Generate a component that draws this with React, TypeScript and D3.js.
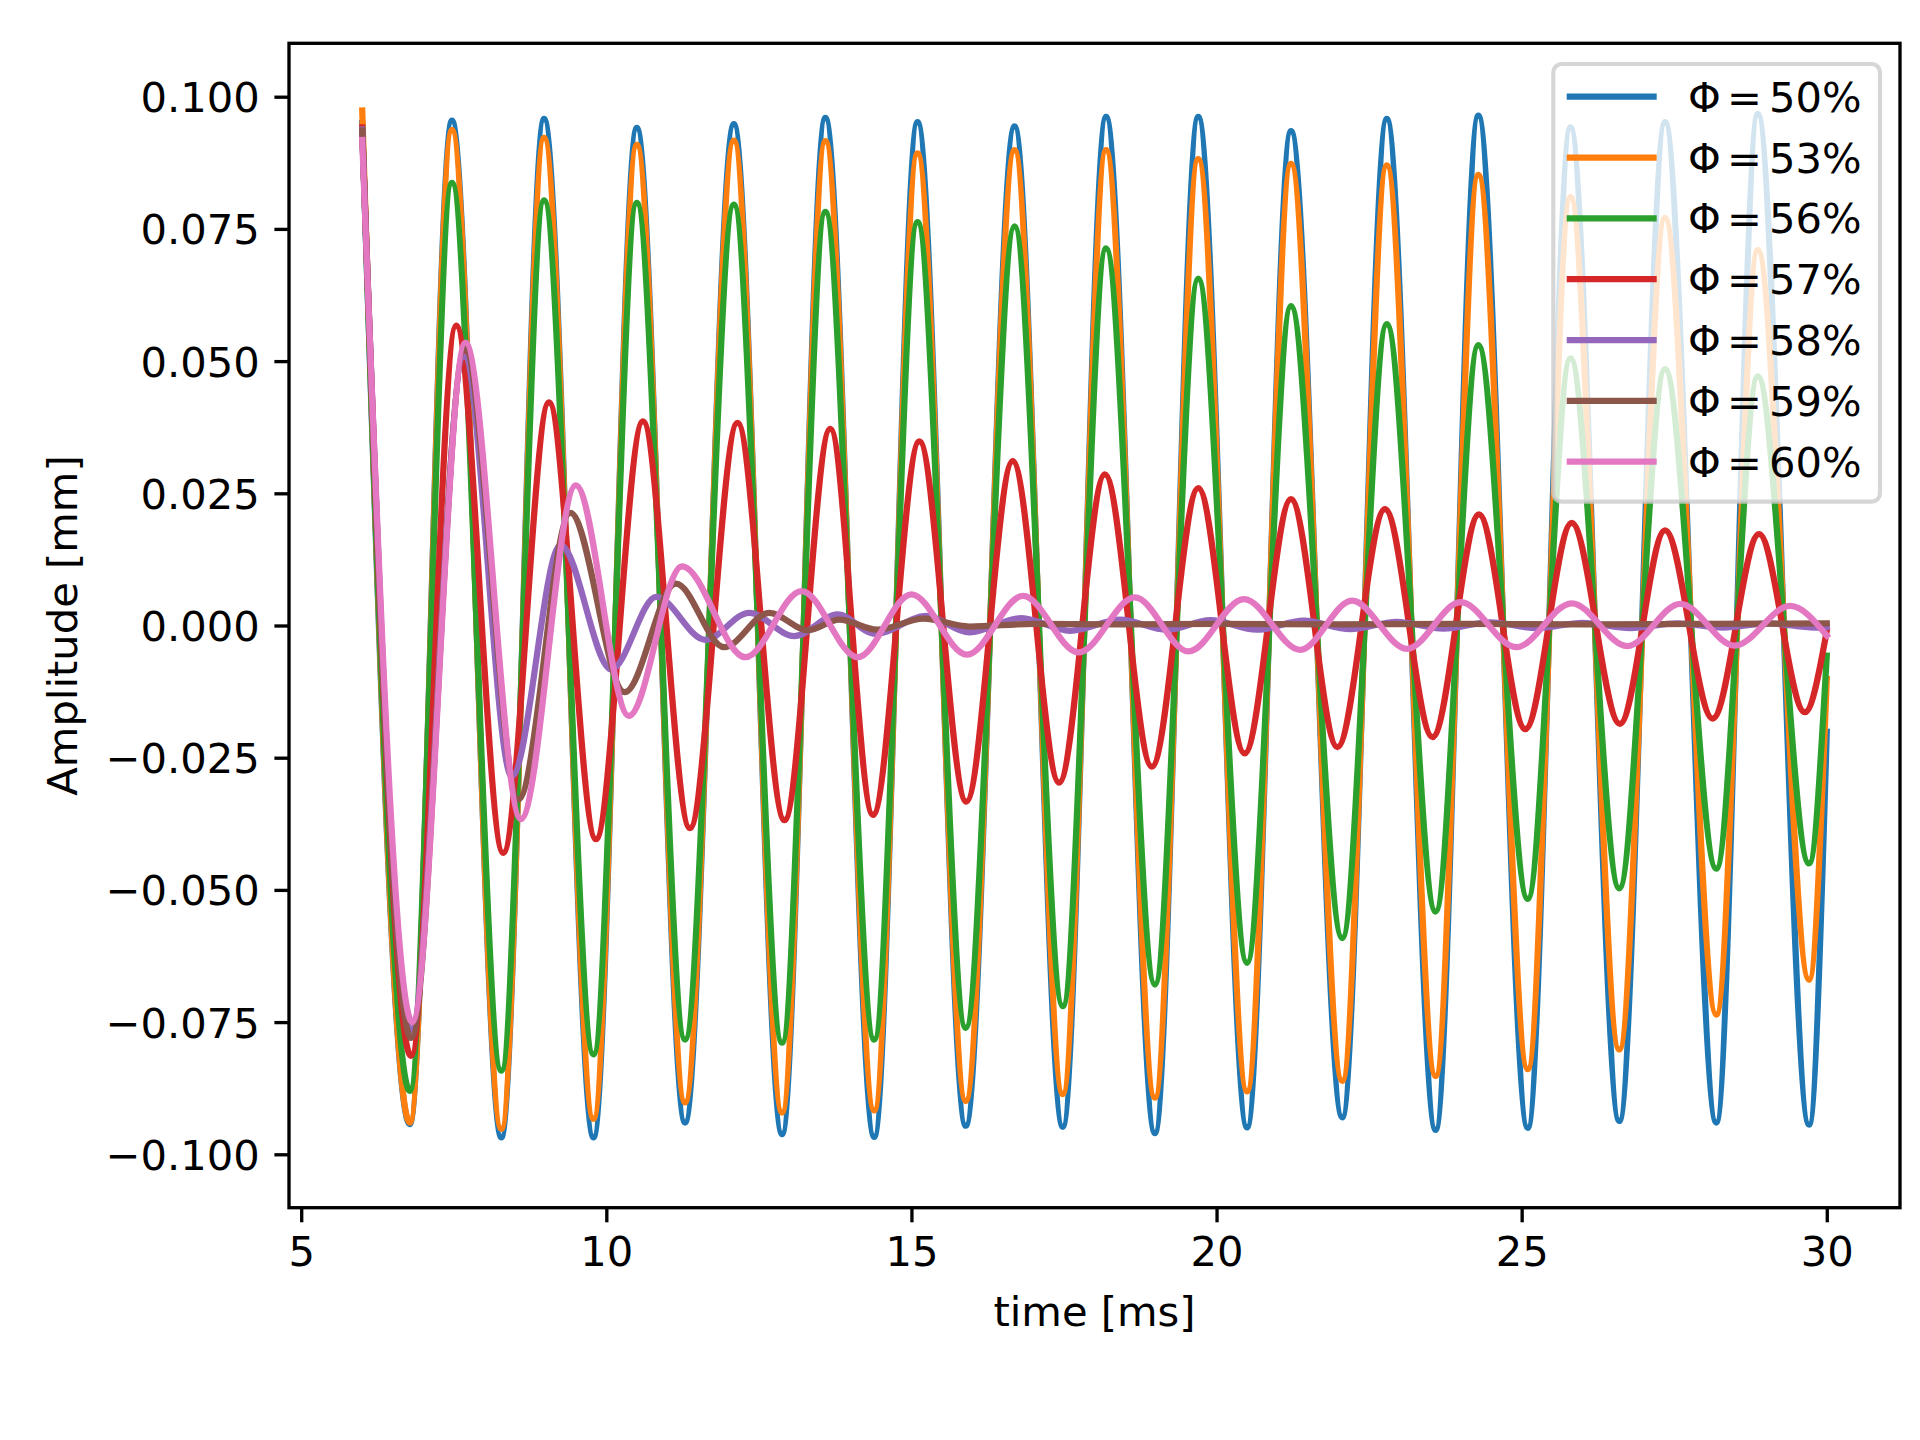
import * as d3 from 'd3';
import { useEffect, useRef } from 'react';

// extrema (peaks / troughs), time in ms, amplitude in mm
// 50%, 53% and 56% swing together, so they share the same turning times
const fastTime = [
  6.0, 6.78, 7.47, 8.28, 8.98, 9.79, 10.5, 11.29, 12.09, 12.88, 13.59, 14.39, 15.1, 15.89, 16.69, 17.48,
  18.19, 18.99, 19.7, 20.5, 21.22, 22.06, 22.79, 23.59, 24.29, 25.1, 25.8, 26.6, 27.35, 28.19, 28.87, 29.71, 30.0,
];
const phi50Amp = [
  0.095, -0.0943, 0.0955, -0.0968, 0.0958, -0.0968, 0.0941, -0.094, 0.0948, -0.0962, 0.096, -0.0967, 0.0952,
  -0.0946, 0.0944, -0.0948, 0.0962, -0.096, 0.0962, -0.0949, 0.0935, -0.093, 0.0958, -0.0954, 0.0964, -0.095,
  0.0942, -0.0937, 0.0952, -0.094, 0.0967, -0.0944, -0.0201,
];
const phi53Amp = [
  0.0974, -0.094, 0.0937, -0.0952, 0.0922, -0.0933, 0.0909, -0.0902, 0.0917, -0.0921, 0.0916, -0.0917, 0.0893,
  -0.0899, 0.0899, -0.0886, 0.0899, -0.0893, 0.0882, -0.0881, 0.0873, -0.0861, 0.087, -0.0852, 0.0852, -0.0839,
  0.081, -0.0802, 0.0771, -0.0736, 0.071, -0.067, -0.0101,
];
const phi56Amp = [
  0.094, -0.088, 0.0837, -0.0842, 0.0804, -0.0811, 0.0799, -0.0783, 0.0796, -0.0789, 0.0782, -0.0783, 0.0763,
  -0.0761, 0.0755, -0.072, 0.0713, -0.0679, 0.0656, -0.0638, 0.0604, -0.0591, 0.057, -0.0541, 0.053, -0.0517,
  0.0505, -0.0497, 0.0485, -0.046, 0.0471, -0.045, -0.0057,
];

const phi57Time = [
  6.0, 6.8, 7.54, 8.31, 9.06, 9.83, 10.6, 11.37, 12.15, 12.92, 13.67, 14.37, 15.13, 15.9, 16.66, 17.42, 18.17,
  18.94, 19.7, 20.46, 21.22, 21.98, 22.76, 23.54, 24.3, 25.06, 25.82, 26.61, 27.35, 28.13, 28.89, 29.64, 30.0,
];
const phi57Amp = [
  0.0942, -0.0814, 0.0567, -0.043, 0.0422, -0.0404, 0.0386, -0.0383, 0.0383, -0.0368, 0.0372, -0.0358, 0.0348,
  -0.0333, 0.0311, -0.0297, 0.0286, -0.0267, 0.026, -0.0242, 0.0239, -0.023, 0.022, -0.0211, 0.021, -0.0196,
  0.0194, -0.0186, 0.018, -0.0176, 0.0173, -0.0164, -0.001,
];

const phi58Time = [
  6.0, 6.8, 7.67, 8.45, 9.25, 10.08, 10.82, 11.62, 12.34, 13.08, 13.79, 14.41, 15.24, 15.95, 16.8, 17.6, 18.42,
  19.19, 19.9, 20.66, 21.43, 22.19, 22.95, 23.72, 24.48, 25.25, 26.0, 26.78, 27.55, 28.3, 29.05, 29.8, 30.0,
];
const phi58Amp = [
  0.0938, -0.0765, 0.0509, -0.0285, 0.0152, -0.0083, 0.0054, -0.0027, 0.0024, -0.002, 0.0021, -0.0016, 0.0018,
  -0.0013, 0.0014, -0.001, 0.0011, -0.0008, 0.001, -0.0008, 0.0009, -0.0007, 0.0007, -0.0006, 0.0006, -0.0005,
  0.0005, -0.0005, 0.0004, -0.0004, 0.0004, -0.0004, -0.0003,
];

const phi59Time = [
  6.0, 6.8, 7.68, 8.56, 9.41, 10.3, 11.14, 11.93, 12.67, 13.3, 13.82, 14.44, 15.2, 15.95, 17.0, 18.5, 20.0, 22.0,
  24.0, 26.0, 28.0, 30.0,
];
const phi59Amp = [
  0.0936, -0.078, 0.0523, -0.0329, 0.0213, -0.0126, 0.0079, -0.0041, 0.0024, -0.0009, 0.0011, -0.0008, 0.0013,
  -0.0002, 0.0003, 0.0002, 0.0003, 0.0002, 0.0003, 0.0002, 0.0003, 0.0004,
];

const phi60Time = [
  6.0, 6.82, 7.69, 8.6, 9.5, 10.37, 11.24, 12.28, 13.2, 14.12, 15.0, 15.91, 16.83, 17.74, 18.66, 19.54, 20.45,
  21.37, 22.22, 23.12, 24.0, 24.91, 25.82, 26.73, 27.6, 28.49, 29.4, 30.0,
];
const phi60Amp = [
  0.0918, -0.075, 0.0535, -0.0366, 0.0265, -0.0171, 0.0112, -0.006, 0.0065, -0.006, 0.0059, -0.0055, 0.0056,
  -0.0051, 0.0053, -0.0049, 0.005, -0.0046, 0.0047, -0.0044, 0.0044, -0.0041, 0.0042, -0.0039, 0.0041, -0.0038,
  0.0037, -0.0019,
];

const phiLabels = ['50%', '53%', '56%', '57%', '58%', '59%', '60%'];
const xTicks = [5, 10, 15, 20, 25, 30];
const yTicks = [-0.1, -0.075, -0.05, -0.025, 0, 0.025, 0.05, 0.075, 0.1];

const colors = ['#1f77b4', '#ff7f0e', '#2ca02c', '#d62728', '#9467bd', '#8c564b', '#e377c2'];
const font = 'DejaVu Sans';
const fs = 41.67; // 10pt at 300 dpi

export default function App() {
  const ref = useRef<SVGSVGElement>(null);

  useEffect(() => {
    const svg = d3.select(ref.current);
    svg.selectAll('*').remove();

    //plot box in pixels
    const left = 289;
    const right = 1900;
    const top = 43.3;
    const bottom = 1207.7;

    const x = d3.scaleLinear().domain([4.8, 31.2]).range([left, right]);
    const y = d3.scaleLinear().domain([-0.1101, 0.1101]).range([bottom, top]);

    const series = [
      d3.zip(fastTime, phi50Amp),
      d3.zip(fastTime, phi53Amp),
      d3.zip(fastTime, phi56Amp),
      d3.zip(phi57Time, phi57Amp),
      d3.zip(phi58Time, phi58Amp),
      d3.zip(phi59Time, phi59Amp),
      d3.zip(phi60Time, phi60Amp),
    ];

    svg.append('rect').attr('width', 1920).attr('height', 1440).attr('fill', '#fff');

    svg
      .append('clipPath')
      .attr('id', 'plot-clip')
      .append('rect')
      .attr('x', left)
      .attr('y', top)
      .attr('width', right - left)
      .attr('height', bottom - top);

    const line = d3
      .line<number[]>()
      .x((d) => x(d[0]))
      .y((d) => y(d[1]))
      .curve(d3.curveMonotoneX);

    svg
      .append('g')
      .attr('clip-path', 'url(#plot-clip)')
      .selectAll('path')
      .data(series)
      .join('path')
      .attr('fill', 'none')
      .attr('stroke', (_d, i) => colors[i])
      .attr('stroke-width', 6.25)
      .attr('stroke-linejoin', 'round')
      .attr('stroke-linecap', 'square')
      .attr('d', (d) => line(d));

    //x axis
    svg
      .append('g')
      .attr('transform', `translate(0,${bottom})`)
      .call(d3.axisBottom(x).tickValues(xTicks).tickSize(14.6).tickPadding(14.6).tickFormat(d3.format('d')))
      .call((g) => {
        g.select('.domain').remove();
        g.selectAll('.tick line').attr('stroke', '#000').attr('stroke-width', 3.33);
        g.selectAll('.tick text').attr('fill', '#000');
      })
      .attr('font-family', font)
      .attr('font-size', fs);

    //y axis
    svg
      .append('g')
      .attr('transform', `translate(${left},0)`)
      .call(d3.axisLeft(y).tickValues(yTicks).tickSize(14.6).tickPadding(14.6).tickFormat(d3.format('.3f')))
      .call((g) => {
        g.select('.domain').remove();
        g.selectAll('.tick line').attr('stroke', '#000').attr('stroke-width', 3.33);
        g.selectAll('.tick text').attr('fill', '#000').attr('dy', '0.36em');
      })
      .attr('font-family', font)
      .attr('font-size', fs);

    //spines
    svg
      .append('rect')
      .attr('x', left)
      .attr('y', top)
      .attr('width', right - left)
      .attr('height', bottom - top)
      .attr('fill', 'none')
      .attr('stroke', '#000')
      .attr('stroke-width', 3.33)
      .attr('stroke-linejoin', 'miter');

    svg
      .append('text')
      .attr('x', (left + right) / 2)
      .attr('y', 1326)
      .attr('text-anchor', 'middle')
      .attr('font-family', font)
      .attr('font-size', fs)
      .text('time [ms]');

    svg
      .append('text')
      .attr('transform', `translate(77,${(top + bottom) / 2}) rotate(-90)`)
      .attr('text-anchor', 'middle')
      .attr('font-family', font)
      .attr('font-size', fs)
      .text('Amplitude [mm]');

    //legend
    const legend = svg.append('g');
    legend
      .append('rect')
      .attr('x', 1553.3)
      .attr('y', 64)
      .attr('width', 326.7)
      .attr('height', 437.7)
      .attr('rx', 8.3)
      .attr('fill', '#fff')
      .attr('fill-opacity', 0.8)
      .attr('stroke', '#ccc')
      .attr('stroke-opacity', 0.8)
      .attr('stroke-width', 4.17);

    const rowY = d3.scaleLinear().domain([0, 6]).range([96.7, 461.7]);
    const rows = legend
      .selectAll('g.row')
      .data(phiLabels)
      .join('g')
      .attr('class', 'row')
      .attr('transform', (_d, i) => `translate(0,${rowY(i)})`);

    rows
      .append('line')
      .attr('x1', 1566.7)
      .attr('x2', 1656.7)
      .attr('stroke', (_d, i) => colors[i])
      .attr('stroke-width', 6.25);

    const label = rows
      .append('text')
      .attr('y', 15)
      .attr('font-family', font)
      .attr('font-size', fs)
      .attr('fill', '#000');
    label.append('tspan').attr('x', 1688).text('Φ');
    label.append('tspan').attr('x', 1727).text('=');
    label
      .append('tspan')
      .attr('x', 1769)
      .text((d) => d);

    return () => {
      svg.selectAll('*').remove();
    };
  }, []);

  return <svg ref={ref} width={1920} height={1440} style={{ position: 'absolute', left: 0, top: 0 }} />;
}
